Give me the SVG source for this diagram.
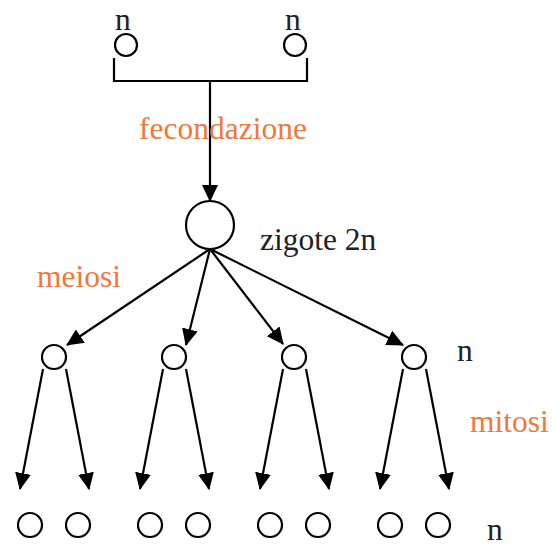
<svg xmlns="http://www.w3.org/2000/svg" width="552" height="547" viewBox="0 0 552 547">
<style>
.c{fill:#fff;stroke:#000;stroke-width:2.2}
.e{stroke:#000;stroke-width:2.2;fill:none}
.a{marker-end:url(#ah)}
.t{font-family:"Liberation Serif","Times New Roman",serif;font-size:31.5px;fill:#222}
.o{font-family:"Liberation Serif","Times New Roman",serif;font-size:31.5px;fill:#F0783A}
</style>
<defs>
<marker id="ah" markerUnits="userSpaceOnUse" viewBox="0 0 17 16" refX="16" refY="8" markerWidth="17" markerHeight="16" orient="auto">
<path d="M0,0 L17,8 L0,16 z" fill="#000"/>
</marker>
</defs>
<rect width="552" height="547" fill="#fff"/>
<g id="connectors">
<path class="e" d="M114,58 V81 H307 V58"/>
<line class="e a" x1="210" y1="81" x2="210" y2="201"/>
<line class="e a" x1="210" y1="249" x2="67" y2="345"/>
<line class="e a" x1="210" y1="249" x2="186" y2="345"/>
<line class="e a" x1="210" y1="249" x2="283" y2="344"/>
<line class="e a" x1="210" y1="249" x2="403" y2="345"/>
<line class="e a" x1="43" y1="369" x2="20" y2="489"/>
<line class="e a" x1="66" y1="369" x2="89" y2="489"/>
<line class="e a" x1="163" y1="369" x2="140" y2="489"/>
<line class="e a" x1="186" y1="369" x2="209" y2="489"/>
<line class="e a" x1="283" y1="369" x2="260" y2="489"/>
<line class="e a" x1="306" y1="369" x2="329" y2="489"/>
<line class="e a" x1="403" y1="369" x2="380" y2="489"/>
<line class="e a" x1="426" y1="369" x2="449" y2="489"/>
</g>
<g id="gamete1"><circle class="c" cx="126" cy="45" r="11"/><text class="t" x="115" y="30">n</text></g>
<g id="gamete2"><circle class="c" cx="295" cy="45" r="11"/><text class="t" x="285" y="30">n</text></g>
<g id="label-fecondazione"><text class="o" x="139" y="139">fecondazione</text></g>
<g id="zigote"><circle class="c" cx="210" cy="225" r="24"/><text class="t" x="260" y="250">zigote 2n</text></g>
<g id="label-meiosi"><text class="o" x="37" y="287">meiosi</text></g>
<g id="cell1"><circle class="c" cx="54" cy="357" r="12"/></g>
<g id="cell2"><circle class="c" cx="174" cy="357" r="12"/></g>
<g id="cell3"><circle class="c" cx="294" cy="357" r="12"/></g>
<g id="cell4"><circle class="c" cx="414" cy="357" r="12"/></g>
<g id="label-n-mid"><text class="t" x="457" y="361">n</text></g>
<g id="label-mitosi"><text class="o" x="470" y="432">mitosi</text></g>
<g id="d1"><circle class="c" cx="30" cy="525" r="12"/></g>
<g id="d2"><circle class="c" cx="78" cy="525" r="12"/></g>
<g id="d3"><circle class="c" cx="150" cy="525" r="12"/></g>
<g id="d4"><circle class="c" cx="198" cy="525" r="12"/></g>
<g id="d5"><circle class="c" cx="270" cy="525" r="12"/></g>
<g id="d6"><circle class="c" cx="318" cy="525" r="12"/></g>
<g id="d7"><circle class="c" cx="390" cy="525" r="12"/></g>
<g id="d8"><circle class="c" cx="438" cy="525" r="12"/></g>
<g id="label-n-bottom"><text class="t" x="487" y="540">n</text></g>
</svg>
